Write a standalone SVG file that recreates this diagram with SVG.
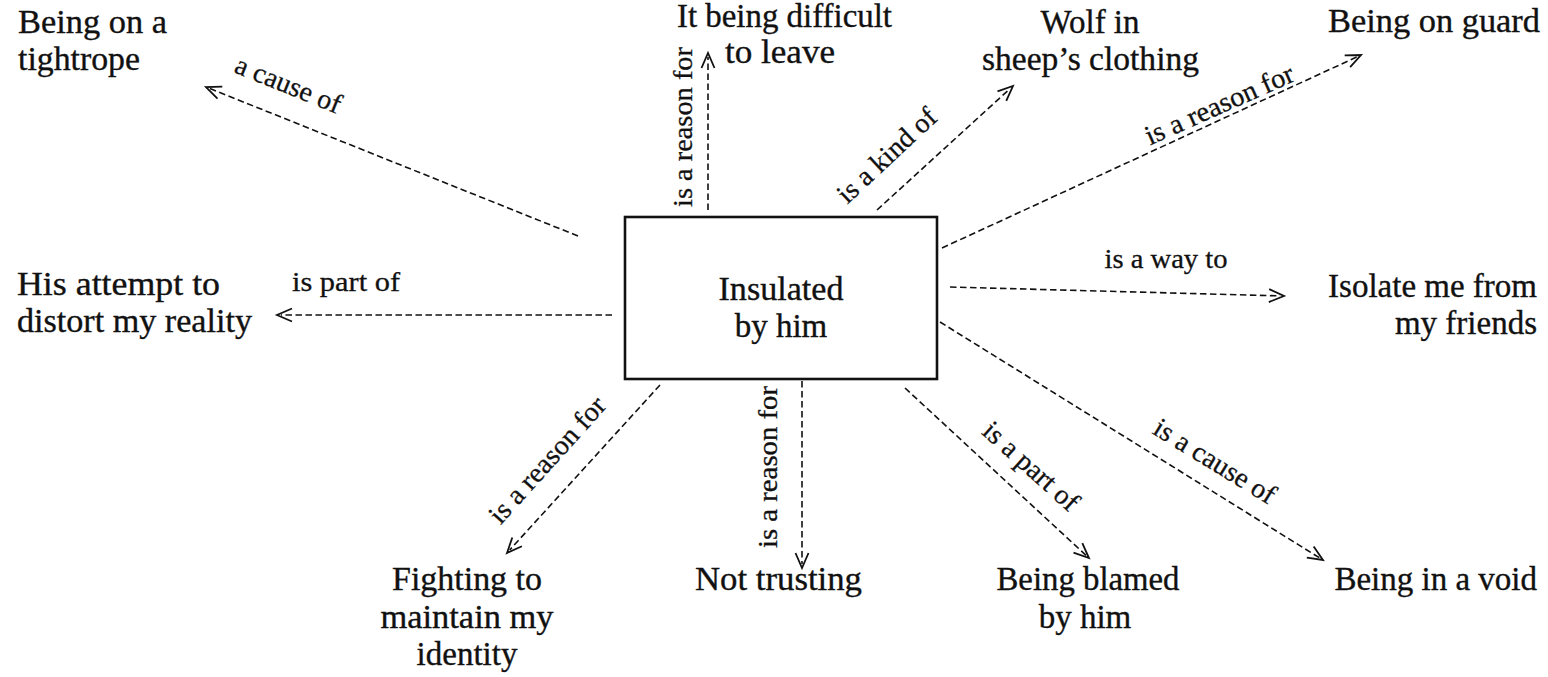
<svg xmlns="http://www.w3.org/2000/svg" width="1548" height="677" viewBox="0 0 1548 677">
  <style>
    .node { font-family: "Liberation Serif", "Times New Roman", serif; font-size: 33px; fill: #111; stroke: #111; stroke-width: 0.35; }
    .lbl { font-family: "Liberation Serif", "Times New Roman", serif; font-size: 28px; fill: #111; stroke: #111; stroke-width: 0.3; text-anchor: middle; }
    .link { fill: none; stroke: #111; stroke-width: 1.6; stroke-dasharray: 6.5 3.5; marker-end: url(#chev); }
    .box { fill: #fff; stroke: #111; stroke-width: 2.6; }
  </style>
  <defs>
    <!-- open chevron arrowhead, drawn slightly beyond the end of the dashed line -->
    <marker id="chev" markerUnits="userSpaceOnUse" viewBox="-20 -10 30 20" markerWidth="30" markerHeight="20" refX="-4" refY="0" orient="auto" overflow="visible">
      <path d="M-15,-6.5 L0,0 L-15,6.5" fill="none" stroke="#111" stroke-width="1.8" stroke-linejoin="miter"/>
    </marker>
  </defs>
  <rect width="1548" height="677" fill="#fff"/>

  <!-- connectors with their relation labels -->
  <g id="connectors">
    <path class="link" d="M578,236 L209.7,88.5"/>
    <text class="lbl" transform="translate(285,93) rotate(22)">a cause of</text>

    <path class="link" d="M708,210 L708,57"/>
    <text class="lbl" transform="translate(692,127) rotate(-90)" textLength="160" lengthAdjust="spacingAndGlyphs">is a reason for</text>

    <path class="link" d="M877,210 L1010,88.7"/>
    <text class="lbl" transform="translate(893,162) rotate(-43)">is a kind of</text>

    <path class="link" d="M942,248 L1357.4,56.7"/>
    <text class="lbl" transform="translate(1223,113) rotate(-24)" textLength="160" lengthAdjust="spacingAndGlyphs">is a reason for</text>

    <path class="link" d="M950,287 L1280,295.9"/>
    <text class="lbl" x="1166" y="268" textLength="123" lengthAdjust="spacingAndGlyphs">is a way to</text>

    <path class="link" d="M612,315 L281,315"/>
    <text class="lbl" x="346" y="291" textLength="108" lengthAdjust="spacingAndGlyphs">is part of</text>

    <path class="link" d="M660,385 L509.7,550"/>
    <text class="lbl" transform="translate(554,466) rotate(-48)" textLength="160" lengthAdjust="spacingAndGlyphs">is a reason for</text>

    <path class="link" d="M802,381 L802,564"/>
    <text class="lbl" transform="translate(777,467) rotate(-90)" textLength="162" lengthAdjust="spacingAndGlyphs">is a reason for</text>

    <path class="link" d="M905,388 L1086,555.3"/>
    <text class="lbl" transform="translate(1025,473) rotate(42)">is a part of</text>

    <path class="link" d="M940,322 L1319.6,557.9"/>
    <text class="lbl" transform="translate(1210,469) rotate(31.5)">is a cause of</text>
  </g>

  <!-- central concept -->
  <g id="center">
    <rect class="box" x="625" y="217" width="312" height="162"/>
    <text class="node" x="781" y="300" text-anchor="middle" textLength="125" lengthAdjust="spacingAndGlyphs">Insulated</text>
    <text class="node" x="781" y="337" text-anchor="middle">by him</text>
  </g>

  <g id="tightrope">
    <text class="node" x="18" y="33" textLength="149" lengthAdjust="spacingAndGlyphs">Being on a</text>
    <text class="node" x="18" y="70" textLength="122" lengthAdjust="spacingAndGlyphs">tightrope</text>
  </g>

  <g id="difficult-to-leave">
    <text class="node" x="677" y="27" textLength="215" lengthAdjust="spacingAndGlyphs">It being difficult</text>
    <text class="node" x="725" y="63" textLength="110" lengthAdjust="spacingAndGlyphs">to leave</text>
  </g>

  <g id="wolf">
    <text class="node" x="1090" y="33" text-anchor="middle">Wolf in</text>
    <text class="node" x="982" y="70" textLength="217" lengthAdjust="spacingAndGlyphs">sheep’s clothing</text>
  </g>

  <g id="on-guard">
    <text class="node" x="1328" y="32" textLength="212" lengthAdjust="spacingAndGlyphs">Being on guard</text>
  </g>

  <g id="distort-reality">
    <text class="node" x="17" y="295" textLength="203" lengthAdjust="spacingAndGlyphs">His attempt to</text>
    <text class="node" x="17" y="332" textLength="235" lengthAdjust="spacingAndGlyphs">distort my reality</text>
  </g>

  <g id="isolate">
    <text class="node" x="1537" y="297" text-anchor="end">Isolate me from</text>
    <text class="node" x="1537" y="334" text-anchor="end">my friends</text>
  </g>

  <g id="identity">
    <text class="node" x="467" y="590" text-anchor="middle" textLength="150" lengthAdjust="spacingAndGlyphs">Fighting to</text>
    <text class="node" x="467" y="628" text-anchor="middle" textLength="173" lengthAdjust="spacingAndGlyphs">maintain my</text>
    <text class="node" x="467" y="665" text-anchor="middle">identity</text>
  </g>

  <g id="not-trusting">
    <text class="node" x="695" y="590" textLength="167" lengthAdjust="spacingAndGlyphs">Not trusting</text>
  </g>

  <g id="blamed">
    <text class="node" x="1088" y="590" text-anchor="middle" textLength="183" lengthAdjust="spacingAndGlyphs">Being blamed</text>
    <text class="node" x="1085" y="628" text-anchor="middle">by him</text>
  </g>

  <g id="void">
    <text class="node" x="1537" y="590" text-anchor="end">Being in a void</text>
  </g>
</svg>
